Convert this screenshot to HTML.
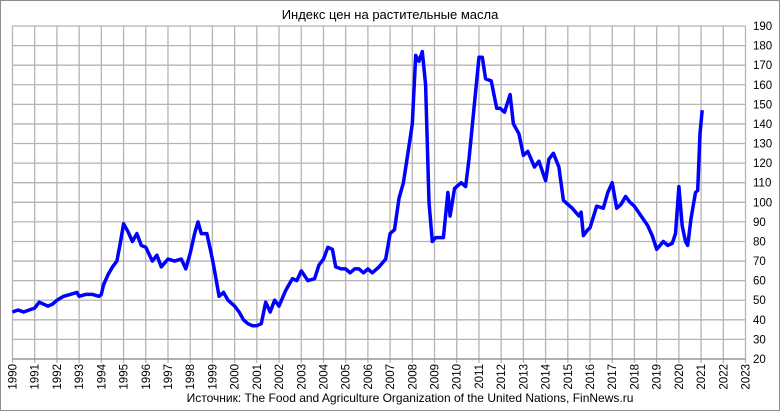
<!DOCTYPE html>
<html><head><meta charset="utf-8"><style>
html,body{margin:0;padding:0;background:#fff}
svg{display:block;font-family:"Liberation Sans",sans-serif}
</style></head><body>
<svg id="chart" width="780" height="411" viewBox="0 0 780 411">
<rect x="0.5" y="0.5" width="779" height="410" fill="#fff" stroke="#8c8c8c"/>
<text x="390" y="19" text-anchor="middle" font-size="13" fill="#000">Индекс цен на растительные масла</text>
<g id="grid"></g>
<g id="yticks"></g>
<g id="xticks"></g>
<path id="line" fill="none" stroke="#0000ff" stroke-width="3.5" stroke-linejoin="round"/>
<text x="410" y="402" text-anchor="middle" font-size="12" fill="#000">Источник: The Food and Agriculture Organization of the United Nations, FinNews.ru</text>
</svg>
<script>
const years = [1990,1990.25,1990.5,1990.75,1991,1991.2,1991.4,1991.6,1991.8,1992,1992.3,1992.6,1992.9,1993,1993.3,1993.6,1993.9,1994,1994.1,1994.3,1994.5,1994.7,1994.85,1995,1995.2,1995.4,1995.6,1995.8,1996,1996.3,1996.5,1996.7,1997,1997.3,1997.6,1997.8,1998,1998.2,1998.35,1998.5,1998.75,1999,1999.1,1999.3,1999.5,1999.7,2000,2000.2,2000.4,2000.6,2000.8,2001,2001.2,2001.4,2001.6,2001.8,2002,2002.3,2002.6,2002.8,2003,2003.3,2003.6,2003.8,2004,2004.2,2004.4,2004.55,2004.8,2005,2005.2,2005.4,2005.6,2005.8,2006,2006.2,2006.5,2006.8,2007,2007.2,2007.4,2007.6,2007.8,2008,2008.15,2008.3,2008.45,2008.6,2008.75,2008.9,2009.05,2009.4,2009.6,2009.7,2009.9,2010,2010.2,2010.4,2010.55,2010.75,2011,2011.15,2011.3,2011.55,2011.8,2011.95,2012.15,2012.4,2012.55,2012.8,2013,2013.2,2013.5,2013.7,2014,2014.15,2014.35,2014.6,2014.8,2015,2015.2,2015.5,2015.6,2015.7,2015.9,2016,2016.3,2016.6,2016.8,2017,2017.2,2017.4,2017.6,2017.8,2018,2018.3,2018.6,2018.8,2019,2019.3,2019.5,2019.7,2019.85,2020,2020.15,2020.3,2020.4,2020.55,2020.75,2020.85,2020.95,2021.05];
const values = [44,45,44,45,46,49,48,47,48,50,52,53,54,52,53,53,52,53,58,63,67,70,79,89,85,80,84,78,77,70,73,67,71,70,71,66,74,84,90,84,84,71,65,52,54,50,47,44,40,38,37,37,38,49,44,50,47,55,61,60,65,60,61,68,71,77,76,67,66,66,64,66,66,64,66,64,67,71,84,86,102,110,125,140,175,172,177,160,100,80,82,82,105,93,107,108,110,108,122,145,174,174,163,162,148,148,146,155,140,135,124,126,118,121,111,122,125,118,101,99,97,93,95,83,86,87,98,97,105,110,97,99,103,100,98,93,88,83,76,80,78,79,84,108,88,80,78,92,105,106,135,147];
const yTicks = [20,30,40,50,60,70,80,90,100,110,120,130,140,150,160,170,180,190];
const xTicks = [1990,1991,1992,1993,1994,1995,1996,1997,1998,1999,2000,2001,2002,2003,2004,2005,2006,2007,2008,2009,2010,2011,2012,2013,2014,2015,2016,2017,2018,2019,2020,2021,2022,2023];

const X0=12.5, X1=745.5, Y0=359, Y1=26;
const xs = yr => X0 + (yr-1990)/(2023-1990)*(X1-X0);
const ys = v => Y0 - (v-20)/(190-20)*(Y0-Y1);
const NS="http://www.w3.org/2000/svg";
const grid=document.getElementById('grid'), yg=document.getElementById('yticks'), xg=document.getElementById('xticks');
function mk(tag,attrs,parent){const e=document.createElementNS(NS,tag);for(const k in attrs)e.setAttribute(k,attrs[k]);parent.appendChild(e);return e;}
yTicks.forEach(v=>{
  const y=ys(v);
  const l=mk('line',{x1:X0,x2:X1,y1:y,y2:y,stroke:'#b4b4b4','stroke-width':1.3},grid);
  
  
  const t=mk('text',{x:753,y:y+4,'font-size':11.5,fill:'#000'},yg);
  t.textContent=v;
  
  
});
xTicks.forEach(yr=>{
  const x=xs(yr);
  const l=mk('line',{x1:x,x2:x,y1:Y1,y2:Y0+4,stroke:'#b4b4b4','stroke-width':1.3},grid);
  
  
  const t=mk('text',{x:0,y:0,'font-size':11.5,fill:'#000','text-anchor':'end',transform:`translate(${x+4},${Y0+5}) rotate(-90)`},xg);
  t.textContent=yr;
  
  
});
const ax=mk('line',{x1:X0,x2:X1,y1:Y0,y2:Y0,stroke:'#8c8c8c','stroke-width':1.3},grid);


document.getElementById('line').setAttribute('d', years.map((yr,i)=>(i?'L':'M')+xs(yr).toFixed(1)+','+ys(values[i]).toFixed(1)).join(''));
</script>
</body></html>
